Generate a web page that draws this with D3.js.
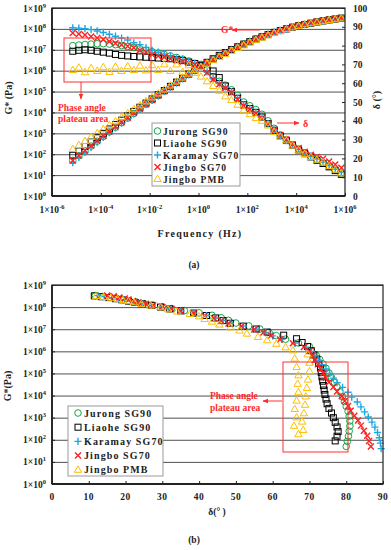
<!DOCTYPE html>
<html><head><meta charset="utf-8">
<script src="https://cdn.jsdelivr.net/npm/d3@7"></script>
<style>body{margin:0;background:#fff}svg{display:block}</style>
</head><body><svg id="c" width="391" height="550"></svg>
<script>
// ---------------- DATA ----------------
const seriesNames = ["Jurong SG90","Liaohe SG90","Karamay SG70","Jingbo SG70","Jingbo PMB"];
// reduced frequency, Hz
const frequency = [7.08e-6,1.26e-5,2.24e-5,3.98e-5,7.08e-5,1.26e-4,2.24e-4,3.98e-4,7.08e-4,1.26e-3,2.24e-3,3.98e-3,7.08e-3,1.26e-2,2.24e-2,3.98e-2,7.08e-2,0.126,0.224,0.398,0.708,1.26,2.24,3.98,7.08,12.6,22.4,39.8,70.8,126,224,398,708,1260,2240,3980,7080,1.26e4,2.24e4,3.98e4,7.08e4,1.26e5,2.24e5,3.98e5,7.08e5];
// complex modulus G*, as log10(Pa)
const logG_Jurong  = [1.70,1.93,2.16,2.39,2.62,2.85,3.07,3.29,3.51,3.73,3.95,4.17,4.39,4.60,4.81,5.02,5.23,5.43,5.63,5.83,6.02,6.21,6.38,6.55,6.71,6.86,7.01,7.15,7.28,7.40,7.52,7.63,7.74,7.84,7.93,8.01,8.09,8.16,8.22,8.28,8.34,8.39,8.44,8.48,8.52];
const logG_Liaohe  = [1.95,2.16,2.37,2.58,2.79,3.00,3.21,3.42,3.63,3.84,4.05,4.25,4.45,4.65,4.85,5.05,5.25,5.45,5.65,5.84,6.03,6.22,6.40,6.57,6.73,6.87,7.01,7.14,7.27,7.39,7.51,7.62,7.73,7.83,7.92,8.00,8.08,8.15,8.21,8.27,8.33,8.38,8.43,8.47,8.51];
const logG_Karamay = [1.60,1.85,2.09,2.33,2.57,2.80,3.03,3.26,3.49,3.71,3.93,4.15,4.37,4.58,4.79,5.00,5.20,5.40,5.60,5.80,6.00,6.19,6.37,6.54,6.70,6.85,7.00,7.14,7.27,7.39,7.51,7.62,7.73,7.83,7.92,8.00,8.08,8.15,8.21,8.27,8.33,8.38,8.43,8.48,8.52];
const logG_SG70    = [1.70,1.94,2.18,2.41,2.64,2.87,3.09,3.31,3.53,3.75,3.97,4.18,4.39,4.60,4.81,5.01,5.21,5.41,5.61,5.81,6.01,6.20,6.37,6.54,6.70,6.85,6.99,7.13,7.26,7.38,7.50,7.61,7.72,7.82,7.91,8.00,8.08,8.15,8.22,8.28,8.34,8.39,8.44,8.49,8.53];
const logG_PMB     = [2.25,2.44,2.63,2.82,3.01,3.20,3.39,3.58,3.77,3.96,4.15,4.34,4.53,4.72,4.91,5.10,5.29,5.48,5.67,5.86,6.04,6.18,6.34,6.50,6.65,6.80,6.94,7.08,7.21,7.34,7.46,7.58,7.69,7.80,7.90,7.99,8.07,8.14,8.21,8.27,8.32,8.37,8.42,8.46,8.50];
// phase angle δ, degrees
const delta_Jurong  = [80,80.3,80.6,80.8,81,81,80.8,80.5,80,79.5,79,78.3,77.5,76.8,76,75.3,74.5,73.7,72.8,71.8,70.5,70,67,63.5,61,59,56.5,53.5,50,48,46,43.5,40,36,32.5,30,27.2,25,23,21,19.3,17.6,15.8,13.8,11.8];
const delta_Liaohe  = [77,77.5,77.8,77.5,77,76.5,76,75.3,74.8,74.5,74.2,74,73.8,73.6,73.4,73.2,73,72.5,72,71.2,70.5,69.5,68,66.5,63,58.5,55.5,52,48.5,46.5,44.5,42,38.5,35,32,29.5,27,24.5,22.5,20.8,19,17.3,15.5,13.5,11.5];
const delta_Karamay = [89.5,89.3,89,88.5,87.8,87,86,85,84,83,81.5,80.5,79,77.5,76.5,75.5,74.5,73.5,72.5,71.5,70.5,69,66,62.5,60,58,55.5,52,48.5,46.5,44.5,42,38.5,35,32,29.5,27,24.8,23,21.3,19.8,18,16.2,14.2,12.5];
const delta_SG70    = [86.7,86.2,85.7,84.8,84,83.2,82.2,81.2,80.5,79.6,78.8,77.5,76.5,75.3,74.5,73.8,73,72.3,71.5,70.8,70,68.5,65.5,62,59.5,57.5,55,51.5,48,46,44,41.5,38.5,35,32.5,30,27.5,25.5,23.5,22,20.8,19.8,18.3,16.8,15];
const delta_PMB     = [67,68.3,65.8,68,66.5,68.5,66,68.8,66.5,69,67,69.3,66.8,69.6,67,70,66.5,70,66,69.5,65.5,63.5,61,58.5,56,53,51,48.5,45.5,43.5,41.5,40,37.5,34,31.5,29.5,26.8,24.3,22.3,20.8,19.3,17.8,16,14,12];
// tick labels
const gTickExponents = [0,1,2,3,4,5,6,7,8,9];
const freqTickExponents = [-6,-4,-2,0,2,4,6];
const deltaRightTicks = [0,10,20,30,40,50,60,70,80,90,100];
const deltaBottomTicks = [0,10,20,30,40,50,60,70,80,90];

// ---------------- STYLE ----------------
const colors  = ["#17A64A","#000000","#1CA8E3","#FF1F1F","#FFBF00"];
const symbols = ["circle","square","plus","cross","triangle"];
const logGs   = [logG_Jurong,logG_Liaohe,logG_Karamay,logG_SG70,logG_PMB];
const deltas  = [delta_Jurong,delta_Liaohe,delta_Karamay,delta_SG70,delta_PMB];
const FONT = "'Liberation Serif','DejaVu Serif',serif";

const svg = d3.select("#c");
svg.append("rect").attr("width",391).attr("height",550).attr("fill","#fff");
const defs = svg.append("defs");
defs.append("marker").attr("id","arr").attr("viewBox","0 0 10 10").attr("refX",9).attr("refY",5)
  .attr("markerWidth",6).attr("markerHeight",6).attr("orient","auto-start-reverse")
  .append("path").attr("d","M0,1L10,5L0,9Z").attr("fill","#FF2A2A");

function mark(g, type, x, y, col){
  const s = 3.3;
  if(type==="circle") g.append("circle").attr("cx",x).attr("cy",y).attr("r",s).attr("fill","none").attr("stroke",col).attr("stroke-width",1);
  else if(type==="square") g.append("rect").attr("x",x-3).attr("y",y-3).attr("width",6).attr("height",6).attr("fill","none").attr("stroke",col).attr("stroke-width",1);
  else if(type==="plus") g.append("path").attr("d",`M${x-3.6},${y}H${x+3.6}M${x},${y-3.6}V${y+3.6}`).attr("stroke",col).attr("stroke-width",1.4).attr("fill","none");
  else if(type==="cross") g.append("path").attr("d",`M${x-3},${y-3}L${x+3},${y+3}M${x+3},${y-3}L${x-3},${y+3}`).attr("stroke",col).attr("stroke-width",1.4).attr("fill","none");
  else g.append("path").attr("d",`M${x},${y-3.9}L${x+3.7},${y+2.5}L${x-3.7},${y+2.5}Z`).attr("fill","none").attr("stroke",col).attr("stroke-width",1);
}
function powLabel(g, x, y, exp, anchor){
  const t = g.append("text").attr("x",x).attr("y",y).attr("text-anchor",anchor)
    .attr("font-family",FONT).attr("font-weight","bold").attr("font-size",9.5).attr("fill","#222");
  t.append("tspan").text("1×10");
  t.append("tspan").attr("dy",-4).attr("font-size",6.5).text(exp);
}
function txt(g,x,y,s,opt={}){
  const t=g.append("text").attr("x",x).attr("y",y).attr("font-family",FONT).attr("font-weight","bold")
   .attr("font-size",opt.size||10).attr("fill",opt.fill||"#222").attr("text-anchor",opt.anchor||"start")
   .attr("letter-spacing",opt.ls||0).text(s);
  if(opt.rot!==undefined) t.attr("transform",`rotate(${opt.rot},${x},${y})`);
  return t;
}

// ---------------- TOP CHART (a) ----------------
const x1 = d3.scaleLog().domain([1e-6,1e6]).range([52,345]);
const y1 = d3.scaleLog().domain([1,1e9]).range([196,8]);
const y1r = d3.scaleLinear().domain([0,100]).range([196,8]);
const gA = svg.append("g");
// gridlines
gA.append("g").call(d3.axisLeft(y1).tickValues(gTickExponents.map(e=>Math.pow(10,e))).tickSize(-(345-52)).tickFormat(""))
  .attr("transform","translate(52,0)").call(g=>{g.select(".domain").remove();g.selectAll("line").attr("stroke","#e3e3e3").attr("stroke-width",0.8);});
// data
seriesNames.forEach((n,si)=>{
  const g = gA.append("g");
  frequency.forEach((f,i)=>{
    mark(g, symbols[si], x1(f), y1(Math.pow(10,logGs[si][i])), colors[si]);
    mark(g, symbols[si], x1(f), y1r(deltas[si][i]), colors[si]);
  });
});
// axes (inward ticks)
gA.append("g").attr("transform","translate(52,0)")
  .call(d3.axisRight(y1).tickValues(gTickExponents.map(e=>Math.pow(10,e))).tickSize(3).tickFormat(""));
gA.append("g").attr("transform","translate(345,0)")
  .call(d3.axisLeft(y1r).tickValues(deltaRightTicks).tickSize(3).tickFormat(""));
gA.append("g").attr("transform","translate(0,196)")
  .call(d3.axisTop(x1).tickValues(freqTickExponents.map(e=>Math.pow(10,e))).tickSize(3).tickFormat(""));
gA.selectAll(".domain").remove();
gA.selectAll(".tick line").attr("stroke","#222");
gA.append("rect").attr("x",52).attr("y",8).attr("width",345-52).attr("height",196-8).attr("fill","none").attr("stroke","#222").attr("stroke-width",1.2);
gA.append("line").attr("x1",52).attr("x2",52).attr("y1",8).attr("y2",196).attr("stroke","#222").attr("stroke-width",1.8);
gA.append("line").attr("x1",52).attr("x2",345).attr("y1",196).attr("y2",196).attr("stroke","#222").attr("stroke-width",1.8);
// tick labels
gTickExponents.forEach(e=>powLabel(gA,46,y1(Math.pow(10,e))+3.5,e,"end"));
freqTickExponents.forEach(e=>powLabel(gA,x1(Math.pow(10,e)),213,e,"middle"));
deltaRightTicks.forEach(v=>txt(gA,353,y1r(v)+3.5,String(v),{size:9.5}));
// axis titles
txt(gA,200,237,"Frequency  (Hz)",{anchor:"middle",ls:1.3});
txt(gA,12,98,"G* (Pa)",{anchor:"middle",rot:-90});
txt(gA,380,100,"δ (°)",{anchor:"middle",rot:-90});
txt(gA,194,268,"(a)",{anchor:"middle",size:9.5});
// legend
const lgA = gA.append("g");
lgA.append("rect").attr("x",152).attr("y",123).attr("width",88).attr("height",63).attr("fill","#fff").attr("stroke","#9a9a9a").attr("stroke-width",1);
seriesNames.forEach((n,i)=>{ const yy=131+12*i; mark(lgA,symbols[i],157.5,yy,colors[i]); txt(lgA,163,yy+3.5,n,{size:9.5,ls:1.1}); });
// annotations
gA.append("rect").attr("x",64).attr("y",38).attr("width",87).attr("height",44).attr("fill","none").attr("stroke","#FF3030").attr("stroke-width",1);
gA.append("line").attr("x1",81).attr("y1",82).attr("x2",81).attr("y2",99).attr("stroke","#FF3030").attr("stroke-width",1).attr("marker-end","url(#arr)");
txt(gA,58,111,"Phase angle",{size:9.5,fill:"#FF2A2A"});
txt(gA,58,122,"plateau area",{size:9.5,fill:"#FF2A2A"});
gA.append("line").attr("x1",260).attr("y1",30).attr("x2",232).attr("y2",30).attr("stroke","#FF3030").attr("stroke-width",1).attr("marker-end","url(#arr)");
txt(gA,221,33,"G*",{size:9.5,fill:"#FF2A2A"});
gA.append("line").attr("x1",277).attr("y1",123).attr("x2",299).attr("y2",123).attr("stroke","#FF3030").attr("stroke-width",1).attr("marker-end","url(#arr)");
txt(gA,303,127,"δ",{size:10,fill:"#FF2A2A"});

// ---------------- BOTTOM CHART (b) ----------------
const x2 = d3.scaleLinear().domain([0,90]).range([52,383]);
const y2 = d3.scaleLog().domain([1,1e9]).range([484,285]);
const gB = svg.append("g");
gB.append("g").call(d3.axisLeft(y2).tickValues(gTickExponents.map(e=>Math.pow(10,e))).tickSize(-(383-52)).tickFormat(""))
  .attr("transform","translate(52,0)").call(g=>{g.select(".domain").remove();g.selectAll("line").attr("stroke","#e3e3e3").attr("stroke-width",0.8);});
seriesNames.forEach((n,si)=>{
  const g = gB.append("g");
  frequency.forEach((f,i)=>{ mark(g, symbols[si], x2(deltas[si][i]), y2(Math.pow(10,logGs[si][i])), colors[si]); });
});
gB.append("g").attr("transform","translate(52,0)")
  .call(d3.axisRight(y2).tickValues(gTickExponents.map(e=>Math.pow(10,e))).tickSize(3).tickFormat(""));
gB.append("g").attr("transform","translate(0,484)")
  .call(d3.axisTop(x2).tickValues(deltaBottomTicks).tickSize(3).tickFormat(""));
gB.selectAll(".domain").remove();
gB.selectAll(".tick line").attr("stroke","#222");
gB.append("rect").attr("x",52).attr("y",285).attr("width",383-52).attr("height",484-285).attr("fill","none").attr("stroke","#222").attr("stroke-width",1.2);
gB.append("line").attr("x1",52).attr("x2",52).attr("y1",285).attr("y2",484).attr("stroke","#222").attr("stroke-width",1.8);
gB.append("line").attr("x1",52).attr("x2",383).attr("y1",484).attr("y2",484).attr("stroke","#222").attr("stroke-width",1.8);
gTickExponents.forEach(e=>powLabel(gB,46,y2(Math.pow(10,e))+3.5,e,"end"));
deltaBottomTicks.forEach(v=>txt(gB,x2(v),500,String(v),{size:9.5,anchor:"middle",ls:0.5}));
txt(gB,217,515,"δ(°  )",{anchor:"middle",size:9.5});
txt(gB,11,386,"G*(Pa)",{anchor:"middle",rot:-90});
txt(gB,194,543,"(b)",{anchor:"middle",size:9.5});
const lgB = gB.append("g");
lgB.append("rect").attr("x",68).attr("y",406).attr("width",95).attr("height",70).attr("fill","#fff").attr("stroke","#9a9a9a").attr("stroke-width",1);
seriesNames.forEach((n,i)=>{ const yy=413+14.2*i; mark(lgB,symbols[i],78,yy,colors[i]); txt(lgB,84,yy+3.5,n,{size:10,ls:1.1}); });
gB.append("rect").attr("x",283).attr("y",362).attr("width",65).attr("height",90).attr("fill","none").attr("stroke","#FF3030").attr("stroke-width",1);
gB.append("line").attr("x1",282).attr("y1",401).attr("x2",263).attr("y2",401).attr("stroke","#FF3030").attr("stroke-width",1).attr("marker-end","url(#arr)");
txt(gB,210,399,"Phase angle",{size:9.5,fill:"#FF2A2A"});
txt(gB,210,411,"plateau area",{size:9.5,fill:"#FF2A2A"});
</script></body></html>
